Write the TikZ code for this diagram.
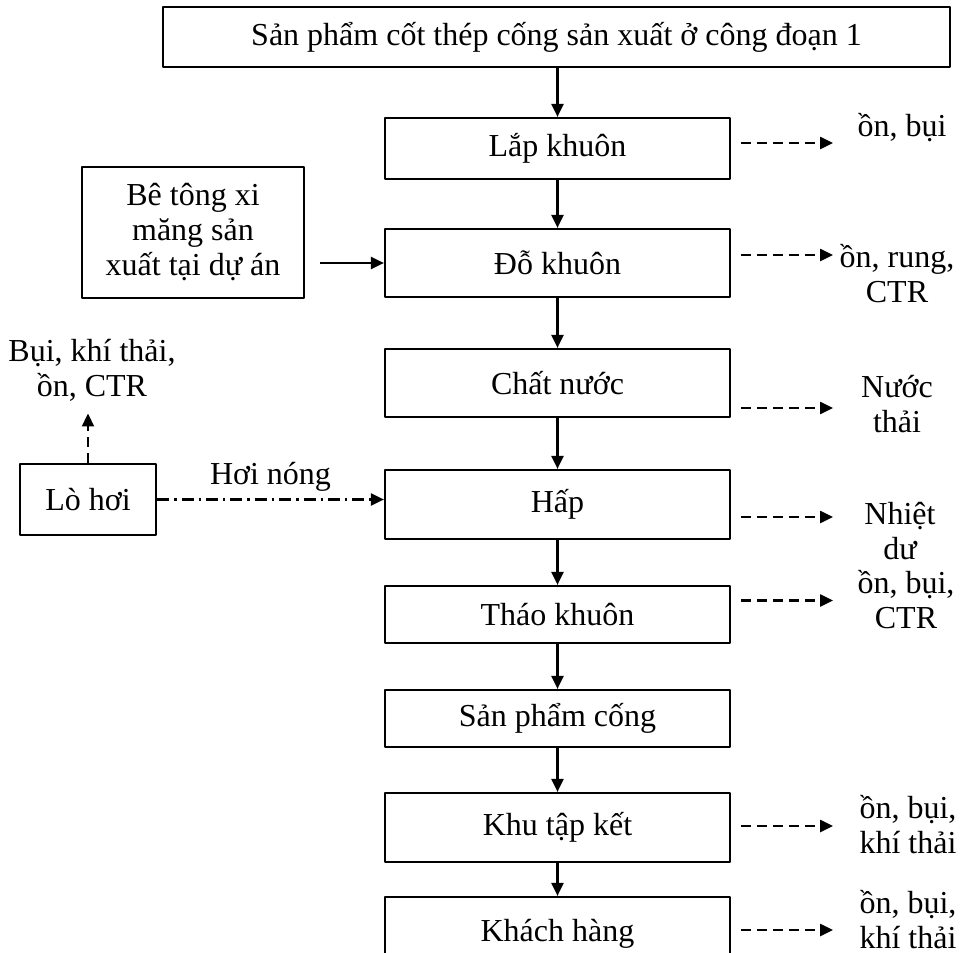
\documentclass[tikz,border=0pt]{standalone}
\usepackage{fontspec}
\setmainfont{Liberation Serif}
\usetikzlibrary{arrows.meta, calc, positioning}

\begin{document}
\begin{tikzpicture}[>={Triangle[length=6.5pt,width=6pt]}, line join=bevel, x=.5pt, y=-.5pt,
        font=\fontsize{16}{17.5}\selectfont,
        box/.style={draw, line width=1.1pt, minimum width=172.5pt, inner sep=2pt},
        flow/.style={->, line width=1.1pt},
        emit/.style={->, line width=1.1pt, dash pattern=on 5pt off 3pt},
        steam/.style={->, line width=1.1pt, dash pattern=on 6pt off 2.5pt on 1.2pt off 2.5pt},
        note/.style={align=center, inner sep=2pt}]
        \path[use as bounding box, clip] (0,0) rectangle (960,953);
        % main line
        \node[box, minimum width=393.5pt, minimum height=30pt, line width=1.4pt] (src) at (556.5,37) {Sản phẩm cốt thép cống sản xuất ở công đoạn 1};
        \node[box, minimum height=30.5pt] (lap) at (557.5,148.5) {Lắp khuôn};
        \node[box, minimum height=34pt] (do) at (557.5,263) {Đỗ khuôn};
        \node[box, minimum height=34pt] (chat) at (557.5,383) {Chất nước};
        \node[box, minimum height=34.5pt] (hap) at (557.5,504.5) {Hấp};
        \node[box, minimum height=28.5pt] (thao) at (557.5,614.5) {Tháo khuôn};
        \node[box, minimum height=28.5pt] (spc) at (557.5,718.5) {Sản phẩm cống};
        \node[box, minimum height=34.5pt] (khu) at (557.5,827.5) {Khu tập kết};
        \node[box, anchor=base, text height=20pt, text depth=40pt] (khach) at (557.5,941) {Khách hàng};
        % inputs
        \node[box, minimum width=111pt, minimum height=65.5pt, align=center] (ximang) at (193,232.5) {Bê tông xi\\măng sản\\xuất tại dự án};
        \node[box, minimum width=68pt, minimum height=35.5pt] (lohoi) at (88,499.5) {Lò hơi};
        \node[note] (khilo) at (92,370) {Bụi, khí thải,\\ồn, CTR};
        % emissions
        \node[note] (e1) at (902,128) {ồn, bụi};
        \node[note] (e2) at (897,274) {ồn, rung,\\CTR};
        \node[note] (e3) at (897,404) {Nước\\thải};
        \node[note] (e4) at (900,531) {Nhiệt\\dư};
        \node[note] (e5) at (906,600) {ồn, bụi,\\CTR};
        \node[note] (e6) at (908,825) {ồn, bụi,\\khí thải};
        \node[note] (e7) at (908,920) {ồn, bụi,\\khí thải};

        \draw[flow] (src.south -| lap) -- (lap);
        \foreach \a/\b in {lap/do, do/chat, chat/hap, hap/thao, thao/spc, spc/khu, khu/khach}
          \draw[flow] (\a) -- (\b);
        \draw[flow] ($(ximang.east |- do)+(15,0)$) -- (do);
        \draw[steam] (lohoi) -- (lohoi -| hap.west) node[midway, above=0pt] (hoi) {Hơi nóng};
        \draw[emit] (lohoi.north) -- ([yshift=-4pt]lohoi.north |- khilo.south);
        \foreach \b/\dy in {lap/-5.5, do/-8, chat/25, hap/12.5, thao/-14, khu/-1.5}
          \draw[emit] ($(\b.east)+(10,\dy)$) -- ($(\b.east)+(102,\dy)$);
        \draw[emit] ($(khach.base east)+(10,-11)$) -- ($(khach.base east)+(102,-11)$);
      \end{tikzpicture}
\end{document}
